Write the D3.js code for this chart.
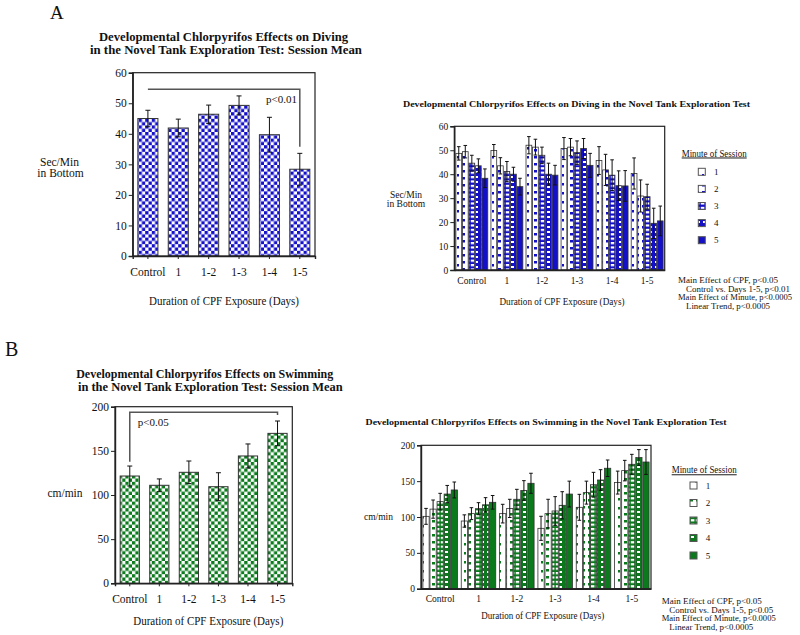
<!DOCTYPE html>
<html><head><meta charset="utf-8">
<script src="https://cdn.jsdelivr.net/npm/d3@7"></script>
<style>
body{margin:0;background:#fff;}
text{font-family:"Liberation Serif","Times New Roman",serif;fill:#111;}
</style></head>
<body>
<svg id="c" width="800" height="635"></svg>
<script>
// ---------- DATA ----------
const groups = ["Control","1","1-2","1-3","1-4","1-5"];
const minutes = ["1","2","3","4","5"];

// Panel A left: session mean diving (sec/min in bottom)
const divingMean = [45.0, 41.9, 46.4, 49.3, 39.7, 28.4];
const divingMeanErr = [2.7, 2.9, 3.0, 3.1, 5.7, 5.2];

// Panel A right: diving by minute (rows = groups, cols = minute 1..5)
const divingByMin = [
  [48.7, 49.4, 44.6, 43.5, 38.3],
  [49.9, 43.5, 41.1, 40.0, 34.8],
  [52.1, 51.3, 47.9, 40.0, 39.6],
  [50.7, 51.3, 49.0, 50.7, 43.7],
  [45.7, 41.8, 39.6, 35.2, 35.1],
  [40.3, 30.9, 30.6, 19.5, 20.5]
];
const divingByMinErr = [
  [2.8, 2.6, 3.3, 2.9, 3.9],
  [2.5, 3.4, 4.2, 2.9, 3.5],
  [3.6, 3.3, 3.4, 4.6, 4.1],
  [4.6, 3.6, 4.9, 4.2, 5.0],
  [5.8, 6.5, 6.4, 6.2, 6.4],
  [6.5, 6.7, 5.2, 6.3, 6.2]
];

// Panel B left: session mean swimming (cm/min)
const swimMean = [121.5, 111.0, 125.7, 109.4, 144.2, 169.8];
const swimMeanErr = [11.3, 7.2, 12.8, 15.8, 13.6, 14.0];

// Panel B right: swimming by minute
const swimByMin = [
  [100.9, 111.0, 121.4, 132.0, 137.7],
  [94.4, 104.7, 111.6, 117.0, 120.5],
  [104.7, 112.0, 124.7, 137.0, 147.0],
  [84.2, 104.7, 108.4, 116.3, 132.0],
  [113.5, 134.0, 145.0, 151.6, 168.0],
  [148.0, 164.7, 173.5, 183.0, 176.7]
];
const swimByMinErr = [
  [11.1, 12.7, 11.6, 12.0, 11.1],
  [8.6, 8.3, 8.4, 10.0, 9.5],
  [13.0, 12.7, 13.9, 13.7, 14.0],
  [16.8, 20.0, 20.0, 19.0, 18.0],
  [18.1, 16.0, 17.3, 14.4, 11.5],
  [16.0, 14.3, 13.9, 11.0, 17.3]
];

const yTicksDiving = [0,10,20,30,40,50,60];
const yTicksSwim = [0,50,100,150,200];

const statsA = ["Main Effect of CPF, p<0.05","Control vs. Days 1-5, p<0.01","Main Effect of Minute, p<0.0005","Linear Trend, p<0.0005"];
const statsB = ["Main Effect of CPF, p<0.05","Control vs. Days 1-5, p<0.05","Main Effect of Minute, p<0.0005","Linear Trend, p<0.0005"];

// ---------- DRAWING ----------
const svg = d3.select("#c");
const defs = svg.append("defs");
const BLUE = "#1410c8", GREEN = "#0a7a1c";

function checker(id, color){
  const p = defs.append("pattern").attr("id",id).attr("patternUnits","userSpaceOnUse")
    .attr("width",6.6).attr("height",6.6);
  p.append("rect").attr("width",6.6).attr("height",6.6).attr("fill","#fff");
  p.append("rect").attr("width",3.3).attr("height",3.3).attr("fill",color);
  p.append("rect").attr("x",3.3).attr("y",3.3).attr("width",3.3).attr("height",3.3).attr("fill",color);
}
function minutePatterns(prefix, color){
  let p = defs.append("pattern").attr("id",prefix+"1").attr("patternUnits","userSpaceOnUse").attr("width",7).attr("height",9);
  p.append("rect").attr("width",7).attr("height",9).attr("fill","#fff");
  p.append("rect").attr("x",2).attr("y",3).attr("width",2).attr("height",2.5).attr("fill",color);
  p = defs.append("pattern").attr("id",prefix+"2").attr("patternUnits","userSpaceOnUse").attr("width",6).attr("height",7);
  p.append("rect").attr("width",6).attr("height",7).attr("fill","#fff");
  p.append("rect").attr("x",0).attr("y",2).attr("width",3).attr("height",2.5).attr("fill",color);
  p = defs.append("pattern").attr("id",prefix+"3").attr("patternUnits","userSpaceOnUse").attr("width",5).attr("height",4.4);
  p.append("rect").attr("width",5).attr("height",4.4).attr("fill",color);
  p.append("rect").attr("x",0.8).attr("y",0).attr("width",3.6).attr("height",2.2).attr("fill","#fff");
  p = defs.append("pattern").attr("id",prefix+"4").attr("patternUnits","userSpaceOnUse").attr("width",6).attr("height",5);
  p.append("rect").attr("width",6).attr("height",5).attr("fill",color);
  p.append("rect").attr("x",1).attr("y",1).attr("width",3).attr("height",2).attr("fill","#fff");
  p = defs.append("pattern").attr("id",prefix+"5").attr("patternUnits","userSpaceOnUse").attr("width",6).attr("height",6);
  p.append("rect").attr("width",6).attr("height",6).attr("fill",color);
}
checker("chkB", BLUE); checker("chkG", GREEN);
minutePatterns("mb", BLUE); minutePatterns("mg", GREEN);

function txt(g, x, y, s, size, opts={}){
  const t = g.append("text").attr("x",x).attr("y",y).text(s).style("font-size",size+"px")
    .attr("text-anchor", opts.anchor||"middle");
  if(opts.bold) t.style("font-weight","bold");
  if(opts.len){ t.attr("textLength",opts.len).attr("lengthAdjust","spacingAndGlyphs"); }
  if(opts.underline) t.style("text-decoration","underline");
  return t;
}

function frameAxes(x0,x1,y,ticks,fs,tickLabY,showXTicks,xScale){
  const g = svg.append("g");
  g.append("rect").attr("x",x0).attr("y",y.range()[1]).attr("width",x1-x0).attr("height",y.range()[0]-y.range()[1])
    .attr("fill","none").attr("stroke","#222").attr("stroke-width",1.2);
  const ya = d3.axisLeft(y).tickValues(ticks).tickSize(4).tickPadding(2).tickFormat(d3.format("d"));
  const ga = svg.append("g").attr("transform",`translate(${x0},0)`).call(ya);
  ga.select(".domain").attr("stroke","#222").attr("stroke-width",1.4);
  ga.selectAll(".tick line").attr("stroke","#222");
  ga.selectAll("text").style("font-size",fs+"px").style("font-family","Liberation Serif");
  const xa = d3.axisBottom(xScale).tickSize(showXTicks?3:0).tickPadding(showXTicks?3:4);
  const gx = svg.append("g").attr("transform",`translate(0,${y.range()[0]})`).call(xa);
  gx.select(".domain").attr("stroke","#222").attr("stroke-width",1.4);
  gx.selectAll(".tick line").attr("stroke","#222");
  gx.selectAll("text").remove();
  groups.forEach(d=>{
    txt(svg, xScale(d)+xScale.bandwidth()/2, tickLabY, d, fs);
  });
}

function errBar(g, cx, yTop, yBot, cap){
  g.append("line").attr("x1",cx).attr("x2",cx).attr("y1",yTop).attr("y2",yBot).attr("stroke","#111").attr("stroke-width",1);
  g.append("line").attr("x1",cx-cap).attr("x2",cx+cap).attr("y1",yTop).attr("y2",yTop).attr("stroke","#111").attr("stroke-width",1);
  g.append("line").attr("x1",cx-cap).attr("x2",cx+cap).attr("y1",yBot).attr("y2",yBot).attr("stroke","#111").attr("stroke-width",1);
}

function meanChart(cfg){
  const x = d3.scaleBand().domain(groups).range(cfg.xr).paddingInner(cfg.pad).paddingOuter(cfg.pad/2);
  const y = d3.scaleLinear().domain([0,cfg.ymax]).range(cfg.yr);
  const g = svg.append("g");
  cfg.vals.forEach((v,i)=>{
    const gx = x(groups[i]);
    g.append("rect").attr("x",gx).attr("y",y(v)).attr("width",x.bandwidth()).attr("height",y(0)-y(v))
      .attr("fill",`url(#${cfg.pat})`).attr("stroke","#333").attr("stroke-width",1);
    errBar(g, gx+x.bandwidth()/2, y(v+cfg.errs[i]), y(v-cfg.errs[i]), 2.5);
  });
  frameAxes(cfg.xr[0],cfg.xr[1],y,cfg.ticks,cfg.fs,cfg.tickLabY,true,x);
  const b = cfg.bracket;
  const cx0 = x(groups[0])+x.bandwidth()/2, cx5 = x(groups[5])+x.bandwidth()/2;
  const path = d3.path();
  path.moveTo(cx0, y(b.leftEnd)); path.lineTo(cx0, y(b.level)); path.lineTo(cx5, y(b.level)); path.lineTo(cx5, y(b.rightEnd));
  svg.append("path").attr("d",path.toString()).attr("fill","none").attr("stroke","#555").attr("stroke-width",1.5);
  return {x,y};
}

const statLens = [100, 104, 114, 84];

function minuteChart(cfg){
  const x = d3.scaleBand().domain(groups).range(cfg.xr).paddingInner(cfg.pad).paddingOuter(cfg.pad/2);
  const x1 = d3.scaleBand().domain(minutes).range([0,x.bandwidth()]).paddingInner(0.12);
  const y = d3.scaleLinear().domain([0,cfg.ymax]).range(cfg.yr);
  const g = svg.append("g");
  cfg.vals.forEach((row,i)=>{
    row.forEach((v,j)=>{
      const bx = x(groups[i])+x1(minutes[j]);
      g.append("rect").attr("x",bx).attr("y",y(v)).attr("width",x1.bandwidth()).attr("height",y(0)-y(v))
        .attr("fill",`url(#${cfg.pat}${j+1})`).attr("stroke","#333").attr("stroke-width",0.8);
    });
  });
  cfg.vals.forEach((row,i)=>{
    row.forEach((v,j)=>{
      const bx = x(groups[i])+x1(minutes[j]);
      errBar(g, bx+x1.bandwidth()/2, y(v+cfg.errs[i][j]), y(v-cfg.errs[i][j]), 1.8);
    });
  });
  frameAxes(cfg.xr[0],cfg.xr[1],y,cfg.ticks,cfg.fs,cfg.tickLabY,false,x);
  const lg = svg.append("g");
  txt(lg, cfg.leg.x, cfg.leg.titleY, "Minute of Session", cfg.fs, {anchor:"start", underline:true, len:65});
  minutes.forEach((m,j)=>{
    const yy = cfg.leg.y0 + j*cfg.leg.dy;
    lg.append("rect").attr("x",cfg.leg.sx).attr("y",yy).attr("width",7).attr("height",7)
      .attr("fill",`url(#${cfg.pat}${j+1})`).attr("stroke","#555").attr("stroke-width",1);
    txt(lg, cfg.leg.lx, yy+6.5, m, cfg.fs-0.5, {anchor:"start"});
  });
  cfg.stats.forEach((s,k)=>{
    txt(svg, cfg.st.x + (k%2? cfg.st.indent:0), cfg.st.y0 + k*cfg.st.dy, s, 9, {anchor:"start", len:statLens[k]});
  });
}

// ---------- Panel A ----------
txt(svg, 50, 18.5, "A", 19, {anchor:"start"});
txt(svg, 223.5, 40.5, "Developmental Chlorpyrifos Effects on Diving", 12, {bold:true, len:249});
txt(svg, 226, 54, "in the Novel Tank Exploration Test: Session Mean", 12, {bold:true, len:272});
meanChart({xr:[132.7,315], yr:[256,72.7], ymax:60, vals:divingMean, errs:divingMeanErr, pat:"chkB",
  pad:0.34, ticks:yTicksDiving, fs:11.5, tickLabY:276,
  bracket:{level:54.6, leftEnd:54.6, rightEnd:35.8}});
txt(svg, 281.5, 103, "p<0.01", 11);
txt(svg, 59.5, 165.5, "Sec/Min", 11.5);
txt(svg, 60.5, 177, "in Bottom", 11.5);
txt(svg, 224, 305, "Duration of CPF Exposure (Days)", 11.5, {len:150});

txt(svg, 576.5, 107, "Developmental Chlorpyrifos Effects on Diving in the Novel Tank Exploration Test", 9, {bold:true, len:347});
minuteChart({xr:[454.3,664.7], yr:[270,126.3], ymax:60, vals:divingByMin, errs:divingByMinErr, pat:"mb",
  pad:0.09, ticks:yTicksDiving, fs:9.5, tickLabY:283.5,
  leg:{x:681.7, titleY:156.5, sx:698.3, y0:168.3, dy:17.1, lx:714},
  stats:statsA, st:{x:678, indent:8, y0:283.3, dy:8.5}});
txt(svg, 406, 198, "Sec/Min", 9.5);
txt(svg, 406, 206.5, "in Bottom", 9.5);
txt(svg, 562, 305, "Duration of CPF Exposure (Days)", 9.5, {len:125});

// ---------- Panel B ----------
txt(svg, 5, 355.5, "B", 20, {anchor:"start"});
txt(svg, 204.7, 377.7, "Developmental Chlorpyrifos Effects on Swimming", 12, {bold:true, len:257});
txt(svg, 210.3, 390.5, "in the Novel Tank Exploration Test: Session Mean", 12, {bold:true, len:264.7});
meanChart({xr:[115,292.3], yr:[583.3,406.7], ymax:200, vals:swimMean, errs:swimMeanErr, pat:"chkG",
  pad:0.35, ticks:yTicksSwim, fs:11.5, tickLabY:603,
  bracket:{level:193.6, leftEnd:137.7, rightEnd:190.5}});
txt(svg, 153.3, 426, "p<0.05", 11);
txt(svg, 65, 497.3, "cm/min", 11.5);
txt(svg, 208.3, 625, "Duration of CPF Exposure (Days)", 11.5, {len:150});

txt(svg, 546, 425, "Developmental Chlorpyrifos Effects on Swimming in the Novel Tank Exploration Test", 9, {bold:true, len:361});
minuteChart({xr:[421,651], yr:[588.7,445.3], ymax:200, vals:swimByMin, errs:swimByMinErr, pat:"mg",
  pad:0.1, ticks:yTicksSwim, fs:9.5, tickLabY:602.3,
  leg:{x:671.7, titleY:473.3, sx:690, y0:482, dy:17.5, lx:705.7},
  stats:statsB, st:{x:661.7, indent:7.6, y0:604, dy:8.7}});
txt(svg, 378.5, 520, "cm/min", 9.5);
txt(svg, 542.7, 619, "Duration of CPF Exposure (Days)", 9.5, {len:123});
</script>
</body></html>
